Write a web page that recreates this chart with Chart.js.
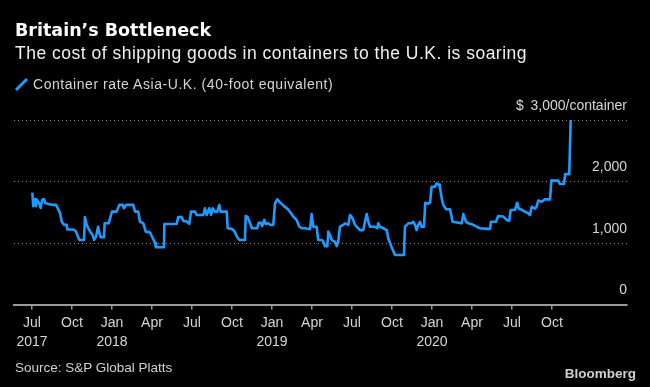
<!DOCTYPE html>
<html>
<head>
<meta charset="utf-8">
<script src="https://cdn.jsdelivr.net/npm/chart.js"></script>
<style>
  html, body { margin: 0; padding: 0; background: #000; }
  .frame { position: relative; width: 650px; height: 387px; background: #000; overflow: hidden; font-family: "Liberation Sans", Arial, sans-serif; }
  .frame canvas { position: absolute; left: 0; top: 0; }
  .txt { position: absolute; line-height: 1; white-space: nowrap; }
  .title { left: 15px; top: 22px; font-family: "DejaVu Sans", sans-serif; font-weight: bold; font-size: 17.5px; color: #fff; }
  .subtitle { left: 15px; top: 44.5px; font-size: 17.5px; letter-spacing: 0.5px; color: #f0f0f0; }
  .legend { left: 33px; top: 77px; font-size: 14px; letter-spacing: 0.55px; color: #d6d6d6; }
  .legend-icon { position: absolute; left: 14px; top: 77px; }
  .source { left: 15px; top: 361px; font-size: 13.5px; color: #d0d0d0; }
  .brand { right: 14px; top: 366.5px; font-size: 13.5px; font-weight: bold; color: #d0d0d0; }
</style>
</head>
<body>
<div class="frame">
  <canvas id="chart" width="650" height="387"></canvas>
  <div class="txt title">Britain’s Bottleneck</div>
  <div class="txt subtitle">The cost of shipping goods in containers to the U.K. is soaring</div>
  <svg class="legend-icon" width="16" height="16"><line x1="2" y1="13" x2="13" y2="2" stroke="#1e9bff" stroke-width="3"/></svg>
  <div class="txt legend">Container rate Asia-U.K. (40-foot equivalent)</div>
  <div class="txt source">Source: S&amp;P Global Platts</div>
  <div class="txt brand">Bloomberg</div>
</div>
<script>
// Weekly container rate, x as decimal year (2017.5 = start of Jul 2017)
const years = [
  2017.502, 2017.508, 2017.519, 2017.525, 2017.533, 2017.544, 2017.554, 2017.563, 2017.575, 2017.583,
  2017.602, 2017.623, 2017.650, 2017.658, 2017.675, 2017.686, 2017.700, 2017.717, 2017.721, 2017.758,
  2017.773, 2017.789, 2017.796, 2017.825, 2017.831, 2017.842, 2017.856, 2017.867, 2017.879, 2017.888,
  2017.900, 2017.913, 2017.921, 2017.929, 2017.950, 2017.954, 2017.979, 2018.000, 2018.029, 2018.046,
  2018.067, 2018.075, 2018.088, 2018.133, 2018.144, 2018.164, 2018.175, 2018.196, 2018.211, 2018.238,
  2018.258, 2018.269, 2018.275, 2018.325, 2018.327, 2018.404, 2018.414, 2018.436, 2018.446, 2018.467,
  2018.483, 2018.494, 2018.519, 2018.529, 2018.571, 2018.581, 2018.592, 2018.608, 2018.619, 2018.629,
  2018.644, 2018.658, 2018.671, 2018.679, 2018.717, 2018.723, 2018.748, 2018.763, 2018.783, 2018.796,
  2018.831, 2018.836, 2018.848, 2018.863, 2018.875, 2018.908, 2018.917, 2018.931, 2018.938, 2018.952,
  2018.961, 2018.977, 2018.988, 2019.008, 2019.019, 2019.033, 2019.050, 2019.075, 2019.100, 2019.119,
  2019.133, 2019.154, 2019.171, 2019.186, 2019.206, 2019.238, 2019.248, 2019.258, 2019.279, 2019.289,
  2019.311, 2019.321, 2019.331, 2019.346, 2019.352, 2019.363, 2019.373, 2019.394, 2019.404, 2019.414,
  2019.425, 2019.446, 2019.456, 2019.477, 2019.488, 2019.504, 2019.519, 2019.550, 2019.571, 2019.581,
  2019.592, 2019.602, 2019.613, 2019.644, 2019.658, 2019.664, 2019.675, 2019.696, 2019.717, 2019.727,
  2019.748, 2019.769, 2019.825, 2019.831, 2019.852, 2019.873, 2019.883, 2019.894, 2019.904, 2019.914,
  2019.925, 2019.936, 2019.950, 2019.958, 2019.977, 2019.988, 2019.998, 2020.019, 2020.029, 2020.046,
  2020.050, 2020.063, 2020.071, 2020.088, 2020.113, 2020.129, 2020.186, 2020.196, 2020.213, 2020.227,
  2020.258, 2020.279, 2020.300, 2020.342, 2020.363, 2020.369, 2020.400, 2020.414, 2020.446, 2020.467,
  2020.483, 2020.492, 2020.519, 2020.533, 2020.542, 2020.561, 2020.581, 2020.602, 2020.613, 2020.623,
  2020.644, 2020.654, 2020.664, 2020.686, 2020.706, 2020.738, 2020.746, 2020.789, 2020.800, 2020.825,
  2020.833, 2020.858, 2020.867
];

const rates = [
  1820, 1600, 1715, 1600, 1700, 1650, 1570, 1700, 1715, 1650,
  1635, 1620, 1620, 1580, 1495, 1345, 1295, 1295, 1220, 1220,
  1195, 1095, 1050, 1050, 1420, 1295, 1220, 1170, 1130, 1050,
  1100, 1265, 1160, 1095, 1095, 1320, 1320, 1510, 1510, 1620,
  1620, 1565, 1620, 1620, 1510, 1510, 1345, 1320, 1185, 1170,
  1060, 1000, 930, 930, 1310, 1310, 1420, 1420, 1360, 1350,
  1310, 1510, 1510, 1455, 1455, 1565, 1455, 1565, 1455, 1565,
  1510, 1510, 1620, 1510, 1510, 1240, 1230, 1200, 1095, 1050,
  1050, 1440, 1420, 1320, 1240, 1240, 1330, 1330, 1275, 1375,
  1310, 1320, 1295, 1295, 1645, 1710, 1660, 1600, 1550, 1485,
  1430, 1375, 1265, 1240, 1240, 1225, 1470, 1265, 1265, 1050,
  1050, 1020, 950, 950, 1185, 1130, 1050, 1020, 950, 1020,
  1265, 1295, 1320, 1295, 1455, 1400, 1295, 1210, 1210, 1345,
  1470, 1345, 1265, 1265, 1240, 1320, 1265, 1240, 1210, 1075,
  930, 805, 805, 1265, 1320, 1320, 1345, 1295, 1210, 1295,
  1345, 1265, 1265, 1655, 1640, 1655, 1915, 1915, 1970, 1945,
  1900, 1700, 1620, 1550, 1550, 1345, 1320, 1470, 1345, 1320,
  1295, 1265, 1240, 1230, 1230, 1345, 1345, 1440, 1430, 1375,
  1360, 1535, 1540, 1655, 1560, 1540, 1510, 1480, 1455, 1590,
  1560, 1590, 1690, 1670, 1710, 1710, 2015, 2015, 1960, 1960,
  2120, 2120, 3000
];

const xTickValues = [2017.5, 2017.75, 2018, 2018.25, 2018.5, 2018.75, 2019, 2019.25, 2019.5, 2019.75, 2020, 2020.25, 2020.5, 2020.75];
const xTickMonths = ["Jul", "Oct", "Jan", "Apr", "Jul", "Oct", "Jan", "Apr", "Jul", "Oct", "Jan", "Apr", "Jul", "Oct"];
const xTickYears = ["2017", "", "2018", "", "", "", "2019", "", "", "", "2020", "", "", ""];

const yTickValues = [0, 1000, 2000, 3000];
const yTickLabels = ["0", "1,000", "2,000", "$\u2009 3,000/container"];

document.addEventListener("DOMContentLoaded", () => {
  initializeChart();
});

function initializeChart() {
  const el = document.getElementById("chart");
  if (!el || typeof Chart === "undefined") return;

  const points = years.map((x, i) => ({ x: x, y: rates[i] }));
  const tickFont = { family: "'Liberation Sans', Arial, sans-serif", size: 14, lineHeight: 1.3 };

  new Chart(el, {
    type: "line",
    data: {
      datasets: [
        {
          label: "Container rate Asia-U.K. (40-foot equivalent)",
          data: points,
          borderColor: "#1e9bff",
          borderWidth: 2.6,
          pointRadius: 0,
          tension: 0,
          borderJoinStyle: "round",
          clip: 4,
        },
      ],
    },
    options: {
      responsive: false,
      maintainAspectRatio: false,
      animation: false,
      layout: { padding: { left: 14, right: 23, top: 120, bottom: 0 } },
      plugins: {
        legend: { display: false },
        tooltip: { enabled: false },
      },
      scales: {
        x: {
          type: "linear",
          min: 2017.3875,
          max: 2021.219,
          afterBuildTicks: (scale) => {
            scale.ticks = xTickValues.map((v) => ({ value: v }));
          },
          afterFit: (scale) => {
            scale.height = 82.5;
          },
          grid: {
            drawOnChartArea: false,
            drawTicks: true,
            tickLength: 5,
            color: "#9a9a9a",
            lineWidth: 1.5,
          },
          border: { display: true, color: "#9a9a9a", width: 2 },
          ticks: {
            autoSkip: false,
            maxRotation: 0,
            padding: 5,
            color: "#d6d6d6",
            font: tickFont,
            callback: (value, index) => {
              const year = xTickYears[index];
              return year ? [xTickMonths[index], year] : xTickMonths[index];
            },
          },
        },
        y: {
          position: "right",
          min: 0,
          max: 3000,
          afterBuildTicks: (scale) => {
            scale.ticks = yTickValues.map((v) => ({ value: v }));
          },
          afterFit: (scale) => {
            scale.width = 0;
          },
          grid: {
            drawTicks: false,
            color: "#8a8a8a",
            lineWidth: 1,
          },
          border: { display: false, dash: [1, 3] },
          ticks: {
            mirror: true,
            padding: 0,
            labelOffset: -14,
            color: "#d6d6d6",
            font: tickFont,
            callback: (value, index) => yTickLabels[index],
          },
        },
      },
    },
  });
}
</script>
</body>
</html>
